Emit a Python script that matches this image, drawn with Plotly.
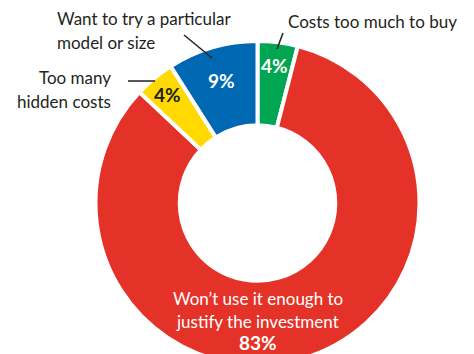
import math
import plotly.graph_objects as go

# Survey answers, clockwise from 12 o'clock
labels = [
    "Costs too much to buy",
    "Won’t use it enough to justify the investment",
    "Too many hidden costs",
    "Want to try a particular model or size",
]
values = [4, 83, 4, 9]
colors = ["#00A651", "#E53228", "#FFD900", "#0067B2"]
pct_colors = ["white", "white", "#231F20", "white"]

W, H = 474, 380
cx, cy, R = 257.5, 203, 162      # ring centre and outer radius (px)
hole = 0.48

FONT = "Lato"
TXT = "#231F20"

fig = go.Figure(go.Pie(
    labels=labels,
    values=values,
    sort=False,
    direction="clockwise",
    rotation=0,
    hole=hole,
    marker=dict(colors=colors, line=dict(color="white", width=4)),
    textinfo="none",
    hoverinfo="label+percent",
    showlegend=False,
    domain=dict(x=[(cx - R) / W, (cx + R) / W],
                y=[1 - (cy + R) / H, 1 - (cy - R) / H]),
))


def px(x, y):
    return x / W, 1 - y / H


def note(x, y, text, size=17, color=TXT, anchor="center", bold=False):
    ax, ay = px(x, y)
    return dict(
        x=ax, y=ay, xref="paper", yref="paper", showarrow=False,
        xanchor=anchor, yanchor="middle", align=anchor,
        text=f"<b>{text}</b>" if bold else text,
        font=dict(family=FONT, size=size, color=color),
    )


# percentage labels placed at each slice's mid angle
total = sum(values)
label_r = [139, 117, 141, 128]
cum = 0
annotations = []
for i, v in enumerate(values):
    mid = (cum + v / 2) / total * 2 * math.pi
    cum += v
    x = cx + label_r[i] * math.sin(mid)
    y = cy - label_r[i] * math.cos(mid)
    if i == 1:
        x, y = cx, 342
    annotations.append(note(x, y, f"{v}%", size=19, color=pct_colors[i], bold=True))

# slice name inside the large slice
annotations.append(note(cx, 298, "Won’t use it enough to", color="white"))
annotations.append(note(cx, 321, "justify the investment", color="white"))

# outside names
annotations += [
    note(286, 22, "Costs too much to buy", anchor="left"),
    note(55, 18, "Want to try a particular", anchor="left"),
    note(55, 42, "model or size", anchor="left"),
    note(113, 78, "Too many", anchor="right"),
    note(113, 101, "hidden costs", anchor="right"),
]

# leader lines
leaders = [((277, 49), (283, 33)), ((184, 35), (212, 58)), ((128, 81), (155, 81))]
shapes = []
for (x0, y0), (x1, y1) in leaders:
    a0, b0 = px(x0, y0)
    a1, b1 = px(x1, y1)
    shapes.append(dict(type="line", xref="paper", yref="paper",
                       x0=a0, y0=b0, x1=a1, y1=b1,
                       line=dict(color=TXT, width=1.5)))

fig.update_layout(
    width=W, height=H,
    margin=dict(l=0, r=0, t=0, b=0),
    paper_bgcolor="white",
    plot_bgcolor="white",
    annotations=annotations,
    shapes=shapes,
)

fig.write_html(
    "out.html",
    config={"displayModeBar": False},
    post_script="document.documentElement.style.overflow='hidden';"
                "document.body.style.overflow='hidden';"
                "document.body.style.margin='0';",
)
